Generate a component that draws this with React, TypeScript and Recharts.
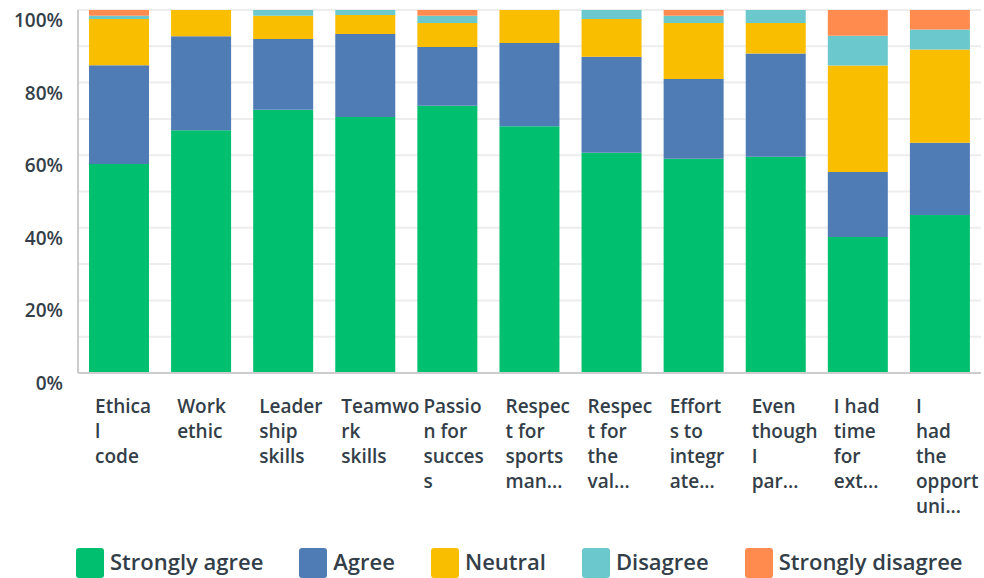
import { BarChart, Bar, XAxis, YAxis, CartesianGrid, Legend } from 'recharts'

const categories = [
  'Ethica\nl\ncode',
  'Work\nethic',
  'Leader\nship\nskills',
  'Teamwo\nrk\nskills',
  'Passio\nn for\nsucces\ns',
  'Respec\nt for\nsports\nman...',
  'Respec\nt for\nthe\nval...',
  'Effort\ns to\nintegr\nate...',
  'Even\nthough\nI\npar...',
  'I had\ntime\nfor\next...',
  'I\nhad\nthe\nopport\nuni...',
]

const stronglyAgree = [57.6, 66.9, 72.5, 70.5, 73.6, 68.0, 60.7, 59.0, 59.6, 37.5, 43.5]
const agree = [27.2, 25.9, 19.5, 22.9, 16.2, 22.9, 26.4, 22.0, 28.4, 17.9, 19.9]
const neutral = [12.7, 7.2, 6.4, 5.2, 6.6, 9.1, 10.4, 15.4, 8.4, 29.3, 25.7]
const disagree = [0.9, 0, 1.6, 1.4, 2.0, 0, 2.5, 2.0, 3.6, 8.2, 5.5]
const stronglyDisagree = [1.6, 0, 0, 0, 1.6, 0, 0, 1.6, 0, 7.1, 5.4]

const yTicks = [0, 10, 20, 30, 40, 50, 60, 70, 80, 90, 100]

const series = [
  { key: 'sa', name: 'Strongly agree', color: '#00bf6f' },
  { key: 'a', name: 'Agree', color: '#507cb6' },
  { key: 'n', name: 'Neutral', color: '#f9be00' },
  { key: 'd', name: 'Disagree', color: '#6bc8cd' },
  { key: 'sd', name: 'Strongly disagree', color: '#ff8b4f' },
]

const data = categories.map((c, i) => ({
  cat: c,
  sa: stronglyAgree[i],
  a: agree[i],
  n: neutral[i],
  d: disagree[i],
  sd: stronglyDisagree[i],
}))

const TEXT = '#333e48'
const FONT = '"Open Sans", sans-serif'

function XTick({ x, y, payload }: any) {
  const lines = String(payload.value).split('\n')
  return (
    <text x={x - 24} y={y} fill={TEXT} fontSize={19} fontWeight={600} fontFamily={FONT} textAnchor="start">
      {lines.map((l, i) => (
        <tspan key={i} x={x - 24} y={y + 32 + i * 25}>{l}</tspan>
      ))}
    </text>
  )
}

function YTick({ y, payload }: any) {
  if (payload.value % 20 !== 0) return null
  return (
    <text x={63} y={y + 17} fill={TEXT} fontSize={19} fontWeight={600} fontFamily={FONT} textAnchor="end">
      {payload.value}%
    </text>
  )
}

function LegendContent() {
  return (
    <div style={{ display: 'flex', paddingLeft: 76, paddingTop: 3, height: 30, alignItems: 'flex-start', fontFamily: FONT }}>
      {series.map((s) => (
        <div key={s.key} style={{ display: 'flex', alignItems: 'flex-start', marginRight: 36 }}>
          <div style={{ width: 28, height: 30, background: s.color, borderRadius: 3, marginRight: 6, flexShrink: 0 }} />
          <span style={{ color: TEXT, fontSize: 22, fontWeight: 600, lineHeight: '26px', whiteSpace: 'nowrap' }}>{s.name}</span>
        </div>
      ))}
    </div>
  )
}

export default function App() {
  return (
    <div style={{ position: 'absolute', left: 0, top: 0, width: 984, height: 578, background: '#fff', overflow: 'hidden' }}>
      <BarChart width={984} height={578} data={data} margin={{ top: 10, right: 3, left: 0, bottom: 0 }}>
        <CartesianGrid vertical={false} stroke="#ededed" strokeWidth={2} />
        <XAxis dataKey="cat" interval={0} height={172} tick={<XTick />} tickLine={false} axisLine={{ stroke: '#cccccc', strokeWidth: 2 }} />
        <YAxis
          type="number"
          domain={[0, 100]}
          ticks={yTicks}
          width={78}
          tick={<YTick />}
          tickLine={false}
          axisLine={{ stroke: '#cccccc', strokeWidth: 2 }}
        />
        <Legend verticalAlign="bottom" content={<LegendContent />} />
        {series.map((s) => (
          <Bar key={s.key} dataKey={s.key} name={s.name} stackId="s" fill={s.color} barSize={60} isAnimationActive={false} />
        ))}
      </BarChart>
    </div>
  )
}
